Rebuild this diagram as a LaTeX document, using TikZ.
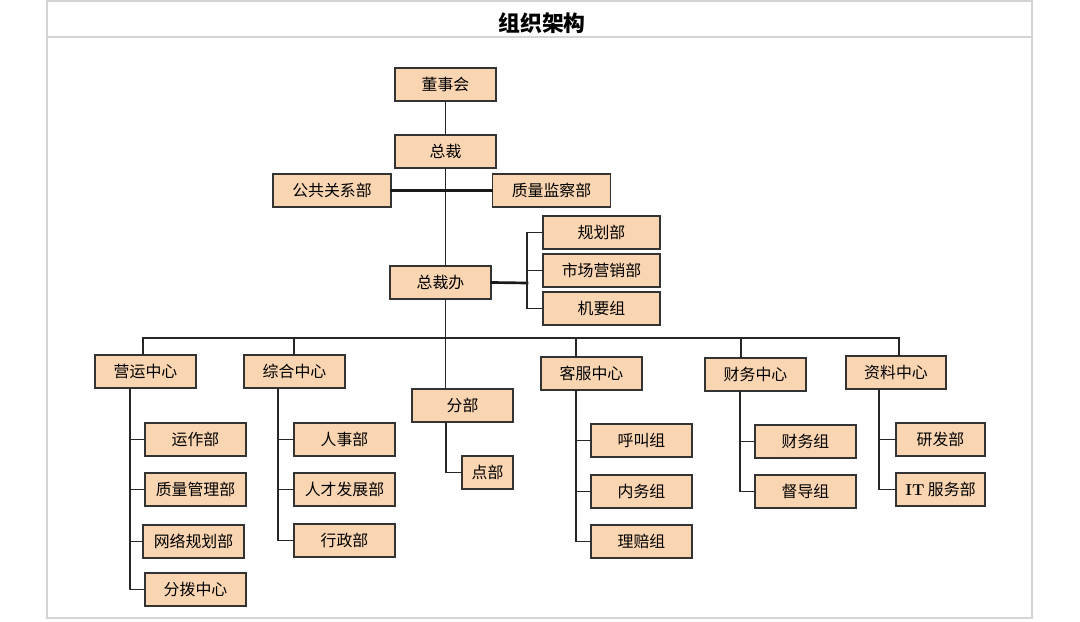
\documentclass[tikz,border=0pt]{standalone}
\usepackage{fontspec}
\newfontfamily\cjk{Noto Sans CJK SC}
\usetikzlibrary{calc}
\definecolor{boxFill}{HTML}{F9D5B2}
\definecolor{boxLine}{HTML}{333333}
\definecolor{frameGray}{HTML}{D4D4D4}

\tikzset{
  box/.style={draw=boxLine, fill=boxFill, line width=1.1pt,
    minimum height=0.825cm, inner sep=0pt, font=\cjk\fontsize{11.3}{13}\selectfont},
  unit/.style={box, minimum width=2.525cm},
  wide/.style={box, minimum width=2.925cm},
  link/.style={draw=black!85, line width=1.1pt},
  thick link/.style={draw=black!90, line width=1.9pt}
}

\begin{document}
\begin{tikzpicture}[x=0.025cm, y=-0.025cm, line cap=rect]
  \useasboundingbox (0,0) rectangle (1080,622);

  % Frame and title band
  \draw[frameGray, line width=1.2pt] (47,1) rectangle (1032,618);
  \draw[frameGray, line width=1.2pt] (47,37) -- (1032,37);
  \node[font=\cjk\bfseries\fontsize{15.5}{18}\selectfont] (title) at (542,23) {组织架构};

  % Top of the chart
  \node[unit] (dongshi) at (445.5,84.5) {董事会};
  \node[unit] (zongcai) at (445.5,151.5) {总裁};
  \node[box, minimum width=2.95cm] (gongguan) at (332,190.5) {公共关系部};
  \node[box, minimum width=2.95cm] (zhijian) at (551.5,190.5) {质量监察部};
  \node[unit] (zcb) at (440.5,282.5) {总裁办};
  \node[wide] (guihua) at (601.5,232.5) {规划部};
  \node[wide] (shichang) at (601.5,270.5) {市场营销部};
  \node[wide] (jiyao) at (601.5,308.5) {机要组};

  % Centres
  \node[unit] (yingyun) at (145.5,371.5) {营运中心};
  \node[unit] (zonghe) at (294.5,371.5) {综合中心};
  \node[unit] (fenbu) at (462.5,405.5) {分部};
  \node[unit] (kefu) at (591.5,373.5) {客服中心};
  \node[unit] (caiwu) at (755.5,374.5) {财务中心};
  \node[box, minimum width=2.5cm] (ziliao) at (896,372.5) {资料中心};

  % Departments
  \node[unit] (yunzuo) at (195.5,439.5) {运作部};
  \node[unit] (zlgl) at (195.5,489.5) {质量管理部};
  \node[unit] (wlgh) at (193.5,541.5) {网络规划部};
  \node[unit] (fbzx) at (195.5,589.5) {分拨中心};
  \node[unit] (renshi) at (344.5,439.5) {人事部};
  \node[unit] (rcfz) at (344.5,489.5) {人才发展部};
  \node[unit] (xingzheng) at (344.5,540.5) {行政部};
  \node[box, minimum width=1.275cm] (dianbu) at (487.5,472.5) {点部};
  \node[unit] (hujiao) at (641.5,440.5) {呼叫组};
  \node[unit] (neiwu) at (641.5,491.5) {内务组};
  \node[unit] (lipei) at (641.5,541.5) {理赔组};
  \node[unit] (cwz) at (805.5,441.5) {财务组};
  \node[unit] (ddz) at (805.5,491.5) {督导组};
  \node[box, minimum width=2.225cm] (yanfa) at (940.5,439.5) {研发部};
  \node[box, minimum width=2.225cm] (itfw) at (940.5,489.5) {{\rmfamily\bfseries IT} 服务部};

  % Trunk and side offices
  \draw[link] (dongshi) -- (zongcai);
  \draw[link] (zongcai.south) -- (zongcai.south |- zcb.north);
  \draw[thick link] (gongguan.east) -- (zhijian.west);
  \coordinate (brk) at (527,283);
  \draw[thick link] (zcb.east) -- (brk);
  \draw[link] (guihua.west -| brk) |- (jiyao.west);
  \draw[link] (guihua.west) -- (guihua.west -| brk);
  \draw[link] (shichang.west) -- (shichang.west -| brk);

  % Bus to the centres
  \coordinate (d1) at (143,338);
  \coordinate (d2) at (294,338);
  \coordinate (d3) at (445.5,338);
  \coordinate (d4) at (576,338);
  \coordinate (d5) at (741,338);
  \coordinate (d6) at (899,338);
  \draw[link] (zongcai.south |- zcb.south) -- (d3);
  \draw[link] (d1) -- (d6);
  \foreach \d/\n in {d1/yingyun, d2/zonghe, d3/fenbu, d4/kefu, d5/caiwu, d6/ziliao}
    \draw[link] (\d) -- (\d |- \n.north);

  % Spines under the centres
  \coordinate (sp1) at (130,0);
  \coordinate (sp2) at (278,0);
  \coordinate (sp3) at (446,0);
  \coordinate (sp4) at (576,0);
  \coordinate (sp5) at (740,0);
  \coordinate (sp6) at (879,0);
  \draw[link] (yingyun.south -| sp1) |- (fbzx.west);
  \foreach \c in {yunzuo, zlgl, wlgh}
    \draw[link] (\c.west) -- (\c.west -| sp1);
  \draw[link] (zonghe.south -| sp2) |- (xingzheng.west);
  \foreach \c in {renshi, rcfz}
    \draw[link] (\c.west) -- (\c.west -| sp2);
  \draw[link] (fenbu.south -| sp3) |- (dianbu.west);
  \draw[link] (kefu.south -| sp4) |- (lipei.west);
  \foreach \c in {hujiao, neiwu}
    \draw[link] (\c.west) -- (\c.west -| sp4);
  \draw[link] (caiwu.south -| sp5) |- (ddz.west);
  \draw[link] (cwz.west) -- (cwz.west -| sp5);
  \draw[link] (ziliao.south -| sp6) |- (itfw.west);
  \draw[link] (yanfa.west) -- (yanfa.west -| sp6);
\end{tikzpicture}
\end{document}
